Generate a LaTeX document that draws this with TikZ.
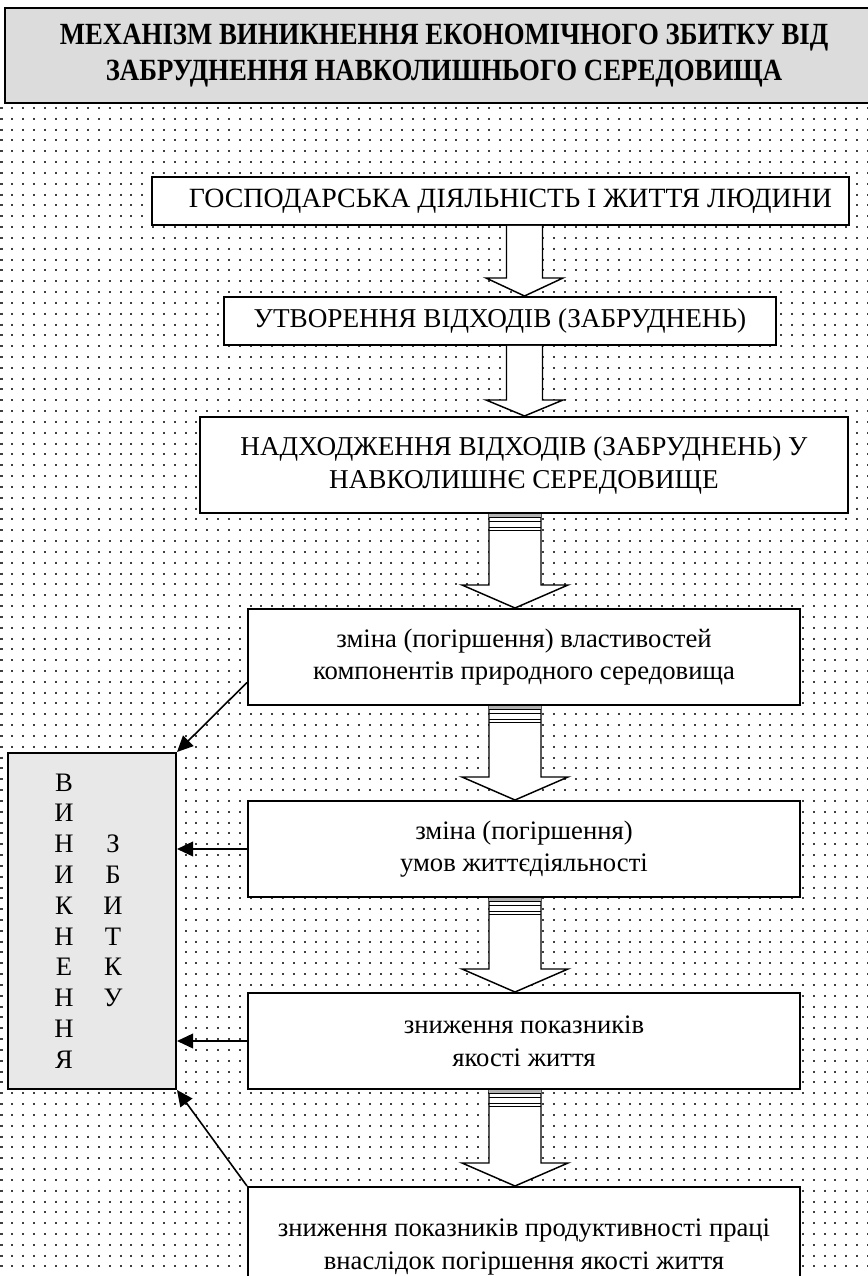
\documentclass[tikz,border=0pt]{standalone}
\usepackage{fontspec}
\usepackage{graphicx}
\setmainfont{Liberation Serif}
\usetikzlibrary{arrows.meta,calc}

% hollow block arrow: #1 start, #2 tip, #3 shaft half-width, #4 head half-width, #5 head length
\newcommand\hollowarrow[5]{%
  \filldraw[arrowbody] ($(#1)+(-#3,0)$) -- ($(#2)+(-#3,-#5)$) -- ($(#2)+(-#4,-#5)$) -- (#2)
    -- ($(#2)+(#4,-#5)$) -- ($(#2)+(#3,-#5)$) -- ($(#1)+(#3,0)$);
}
% striped neck at the top of a block arrow: #1 start, #2 shaft half-width
\newcommand\arrowneck[2]{%
  \fill[gray!60] ($(#1)+(-#2,0)$) rectangle ($(#1)+(#2,3)$);
  \foreach \o in {3,7.5,13,16} {\draw[neckline] ($(#1)+(-#2,\o)$) -- ($(#1)+(#2,\o)$);}
}

\begin{document}
\begin{tikzpicture}[x=0.75pt,y=-0.75pt,
  box/.style={draw, line width=1.5pt, fill=white, align=center, inner sep=0pt,
    font=\fontsize{20}{24.5}\selectfont},
  capsbox/.style={box, font=\fontsize{20.4}{24.8}\selectfont},
  titlebox/.style={draw, line width=1.5pt, fill=titlegray, inner sep=0pt},
  sidebox/.style={draw, line width=1.5pt, fill=sidegray, inner sep=0pt},
  letters/.style={align=center, inner sep=0pt, font=\fontsize{20}{23.1}\selectfont},
  arrowbody/.style={draw=black, fill=white, line width=1.1pt, line join=miter},
  neckline/.style={line width=0.6pt},
  conn/.style={line width=1.2pt, -{Triangle[length=12pt,width=11pt]}},
  dotline/.style={line width=1.5pt, draw=black!75, line cap=butt, dash pattern=on 1.5pt off 6.62pt}
]
\definecolor{titlegray}{RGB}{220,220,220}
\definecolor{sidegray}{RGB}{232,232,232}
\useasboundingbox (0,0) rectangle (867,1276);

% dotted background: square grid of small dots
\foreach \i in {0,...,80} {
  \pgfmathsetmacro\xx{1.5+10.83*\i}
  \draw[dotline] (\xx,107) -- (\xx,1290);
}

% heading
\node[titlebox, minimum width=660pt, minimum height=71.25pt] (title) at (445,55.5) {};
\node[align=center, inner sep=0pt, font=\bfseries\fontsize{20.1}{27}\selectfont] (titletext) at (444,56)
  {\scalebox{1}[1.15]{МЕХАНІЗМ ВИНИКНЕННЯ ЕКОНОМІЧНОГО ЗБИТКУ ВІД}\\
   \scalebox{1}[1.15]{ЗАБРУДНЕННЯ НАВКОЛИШНЬОГО СЕРЕДОВИЩА}};

% chain of boxes
\node[capsbox, font=\fontsize{20.9}{24.8}\selectfont, minimum width=522.75pt, minimum height=36pt] (b1) at (500.5,201) {\hspace*{15pt}ГОСПОДАРСЬКА ДІЯЛЬНІСТЬ І ЖИТТЯ ЛЮДИНИ};
\node[capsbox, minimum width=414pt, minimum height=36pt] (b2) at (500,321) {УТВОРЕННЯ ВІДХОДІВ (ЗАБРУДНЕНЬ)};
\node[capsbox, minimum width=486pt, minimum height=72pt] (b3) at (524,465) {НАДХОДЖЕННЯ ВІДХОДІВ (ЗАБРУДНЕНЬ) У\\НАВКОЛИШНЄ СЕРЕДОВИЩЕ};
\node[box, minimum width=414pt, minimum height=72pt] (b4) at (524,657) {зміна (погіршення) властивостей\\компонентів природного середовища};
\node[box, minimum width=414pt, minimum height=72pt] (b5) at (524,849) {зміна (погіршення)\\умов життєдіяльності};
\node[box, minimum width=414pt, minimum height=72pt] (b6) at (524,1041) {зниження показників\\якості життя};
\node[box, minimum width=414pt, minimum height=90pt] (b7) at (524,1247) {зниження показників продуктивності праці\\внаслідок погіршення якості життя};

% damage box on the left
\node[sidebox, minimum width=126pt, minimum height=252pt] (lb) at (92,921) {};
\node[letters] (lbA) at (64,921) {В\\И\\Н\\И\\К\\Н\\Е\\Н\\Н\\Я};
\node[letters] (lbB) at (113,921) {З\\Б\\И\\Т\\К\\У};

% block arrows
\coordinate (axA) at (524.5,0);
\coordinate (axB) at (515,0);
\coordinate (a1s) at (b1.south -| axA); \coordinate (a1e) at (b2.north -| axA);
\coordinate (a2s) at (b2.south -| axA); \coordinate (a2e) at (b3.north -| axA);
\hollowarrow{a1s}{a1e}{18}{38.5}{18}
\hollowarrow{a2s}{a2e}{18}{38.5}{16}

\foreach \u/\v [count=\k] in {b3/b4, b4/b5, b5/b6, b6/b7} {
  \coordinate (s\k) at (\u.south -| axB);
  \coordinate (e\k) at (\v.north -| axB);
  \hollowarrow{s\k}{e\k}{26}{53}{23}
  \arrowneck{s\k}{26}
}

% links into the damage box
\draw[conn] ($(b4.north west)!0.76!(b4.south west)$) -- (lb.north east);
\draw[conn] (b5.west) -- (lb.east |- b5.west);
\draw[conn] (b6.west) -- (lb.east |- b6.west);
\draw[conn] (b7.north west) -- (lb.south east);
\end{tikzpicture}
\end{document}
